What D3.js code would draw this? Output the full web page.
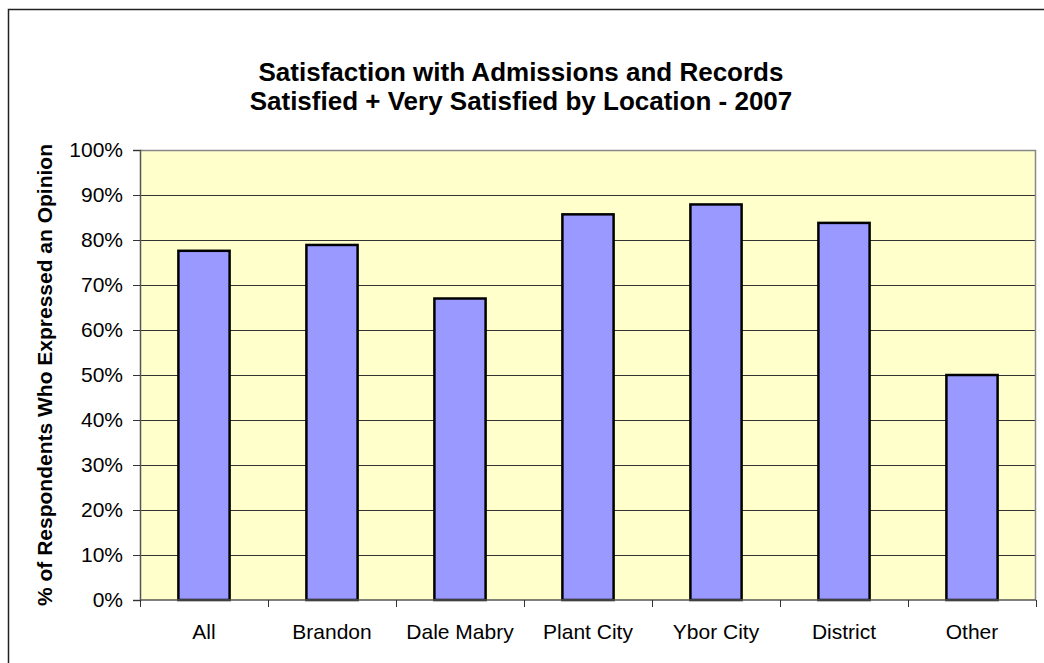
<!DOCTYPE html>
<html>
<head>
<meta charset="utf-8">
<script src="https://cdn.jsdelivr.net/npm/d3@7"></script>
<style>
  html, body { margin: 0; padding: 0; background: #fff; }
  svg { display: block; font-family: "Liberation Sans", Arial, sans-serif; }
</style>
</head>
<body>
<svg id="chart" width="1044" height="663"></svg>
<script>
// Satisfied + Very Satisfied share by campus location, 2007
const categories = ["All", "Brandon", "Dale Mabry", "Plant City", "Ybor City", "District", "Other"];
const values = [0.776, 0.789, 0.670, 0.857, 0.879, 0.838, 0.500];
const yTicks = [0, 0.1, 0.2, 0.3, 0.4, 0.5, 0.6, 0.7, 0.8, 0.9, 1.0];
const titleLines = ["Satisfaction with Admissions and Records", "Satisfied + Very Satisfied by Location - 2007"];
const yAxisTitle = "% of Respondents Who Expressed an Opinion";

const svg = d3.select("#chart");
const plot = { left: 140, top: 150, right: 1036, bottom: 600 };

// outer chart frame
svg.append("rect")
  .attr("x", 8.5).attr("y", 9.5)
  .attr("width", 1060).attr("height", 680)
  .attr("fill", "#fff").attr("stroke", "#222").attr("stroke-width", 1.5);

const x = d3.scaleBand().domain(categories).range([plot.left, plot.right]).paddingInner(0.6).paddingOuter(0.3);
const xTicks = d3.scaleBand().domain(categories).range([plot.left, plot.right]);
const y = d3.scaleLinear().domain([0, 1]).range([plot.bottom, plot.top]);

// plot background
svg.append("rect")
  .attr("x", plot.left).attr("y", plot.top)
  .attr("width", plot.right - plot.left).attr("height", plot.bottom - plot.top)
  .attr("fill", "#FFFFCC");

// gridlines
svg.append("g").selectAll("line")
  .data(yTicks.filter(t => t > 0 && t < 1))
  .join("line")
  .attr("x1", plot.left).attr("x2", plot.right)
  .attr("y1", d => Math.round(y(d)) + 0.5).attr("y2", d => Math.round(y(d)) + 0.5)
  .attr("stroke", "#333").attr("stroke-width", 1);

// plot border top/right
svg.append("path")
  .attr("d", `M${plot.left},${plot.top + 0.5}H${plot.right - 0.5}V${plot.bottom}`)
  .attr("fill", "none").attr("stroke", "#888").attr("stroke-width", 1.5);

// bars
svg.append("g").selectAll("rect")
  .data(values)
  .join("rect")
  .attr("x", (d, i) => x(categories[i]))
  .attr("y", d => y(d))
  .attr("width", x.bandwidth())
  .attr("height", d => y(0) - y(d))
  .attr("fill", "#9999FF")
  .attr("stroke", "#000")
  .attr("stroke-width", 2.5);

// y axis
const yAxis = d3.axisLeft(y).tickValues(yTicks).tickFormat(d3.format(".0%")).tickSize(7).tickPadding(10);
const gy = svg.append("g").attr("transform", `translate(${plot.left},0)`).call(yAxis);
gy.select(".domain").attr("stroke", "#555").attr("stroke-width", 1.5);
gy.selectAll(".tick line").attr("stroke", "#333");
gy.selectAll("text").attr("font-size", 21).attr("fill", "#000")
  .attr("font-family", "Liberation Sans, Arial, sans-serif");

// x axis: tick marks at category boundaries
const gx = svg.append("g").attr("transform", `translate(0,${plot.bottom})`);
gx.append("line").attr("x1", plot.left).attr("x2", plot.right)
  .attr("stroke", "#555").attr("stroke-width", 1.5);
const bounds = categories.map(c => xTicks(c)).concat([plot.right]);
gx.selectAll("line.tk").data(bounds).join("line").attr("class", "tk")
  .attr("x1", d => Math.round(d) + 0.5).attr("x2", d => Math.round(d) + 0.5)
  .attr("y1", 0).attr("y2", 7).attr("stroke", "#333");
gx.selectAll("text").data(categories).join("text")
  .attr("x", d => xTicks(d) + xTicks.bandwidth() / 2)
  .attr("y", 39)
  .attr("text-anchor", "middle")
  .attr("font-size", 21)
  .text(d => d);

// titles
svg.append("g").selectAll("text").data(titleLines).join("text")
  .attr("x", 521).attr("y", (d, i) => 81 + i * 29)
  .attr("text-anchor", "middle")
  .attr("font-size", 26).attr("font-weight", "bold")
  .text(d => d);

svg.append("text")
  .attr("transform", `translate(52,${(plot.top + plot.bottom) / 2}) rotate(-90)`)
  .attr("text-anchor", "middle")
  .attr("font-size", 21).attr("font-weight", "bold")
  .text(yAxisTitle);
</script>
</body>
</html>
